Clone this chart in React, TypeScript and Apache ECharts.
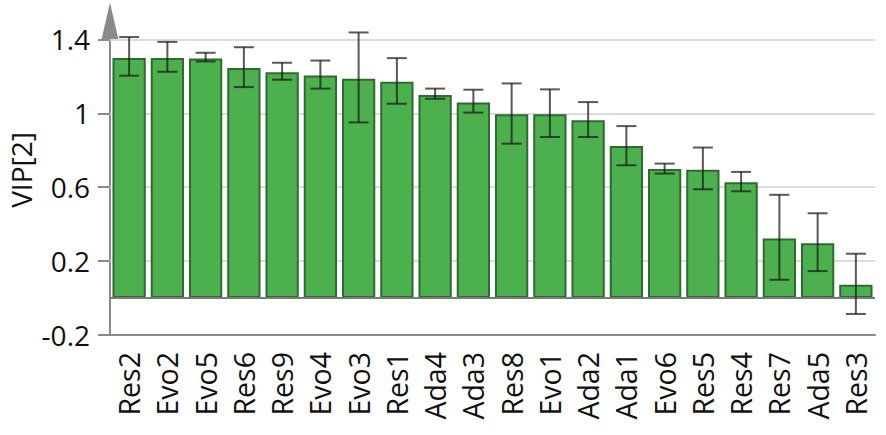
import React, { useEffect, useRef } from "react";
import * as echarts from "echarts";

const categories = ["Res2","Evo2","Evo5","Res6","Res9","Evo4","Evo3","Res1","Ada4","Ada3","Res8","Evo1","Ada2","Ada1","Evo6","Res5","Res4","Res7","Ada5","Res3"];
const vipValues = [1.30,1.30,1.297,1.245,1.223,1.205,1.187,1.171,1.099,1.059,0.995,0.995,0.962,0.823,0.699,0.695,0.627,0.323,0.297,0.072];
const errLow = [1.204,1.225,1.281,1.142,1.182,1.134,0.951,1.052,1.079,1.004,0.836,0.872,0.872,0.719,0.674,0.589,0.578,0.099,0.146,-0.086];
const errHigh = [1.413,1.387,1.328,1.358,1.274,1.286,1.438,1.299,1.134,1.128,1.162,1.130,1.061,0.931,0.728,0.815,0.683,0.559,0.459,0.240];
const yTicks = [-0.2, 0.2, 0.6, 1, 1.4];
const yAxisTitle = "VIP[2]";

const FONT = "'Open Sans', 'Noto Sans', sans-serif";

export default function App() {
  const ref = useRef<HTMLDivElement>(null);
  useEffect(() => {
    if (!ref.current) return;
    const chart = echarts.init(ref.current, null, { renderer: "svg" });
    const errData = categories.map((c, i) => [i, errLow[i], errHigh[i]]);
    chart.setOption({
      animation: false,
      grid: { left: 110, right: 11, top: 21, bottom: 100, containLabel: false },
      graphic: [
        {
          type: "text",
          x: 21,
          y: 170,
          rotation: Math.PI / 2,
          style: {
            text: yAxisTitle,
            fill: "#111",
            font: "28px 'Open Sans', 'Noto Sans', sans-serif",
            align: "center",
            verticalAlign: "middle",
          },
        },
      ],
      xAxis: {
        type: "category",
        data: categories,
        axisLine: { onZero: false, lineStyle: { color: "#8a8a8a", width: 2 } },
        axisTick: { alignWithLabel: true, length: 11, lineStyle: { color: "#8a8a8a", width: 2 } },
        axisLabel: { interval: 0, rotate: 90, margin: 17, color: "#111", fontSize: 28.5, fontFamily: FONT },
        splitLine: { show: false },
      },
      yAxis: {
        type: "value",
        min: -0.2,
        max: 1.5,
        interval: 0.4,
        axisLine: {
          show: true,
          symbol: ["none", "triangle"],
          symbolSize: [17, 37],
          lineStyle: { color: "#8a8a8a", width: 2 },
        },
        axisTick: { show: true, length: 12, customValues: yTicks, lineStyle: { color: "#8a8a8a", width: 2 } },
        axisLabel: {
          customValues: yTicks,
          margin: 20,
          color: "#111",
          fontSize: 28,
          fontFamily: FONT,
          formatter: (v: number) => (Math.abs(v) < 1e-9 ? "0" : String(Math.round(v * 10) / 10)),
        },
        splitLine: { show: false },
      },
      series: [
        {
          type: "bar",
          data: vipValues,
          barCategoryGap: "13%",
          itemStyle: { color: "#4cb04f", borderColor: "#2f6b31", borderWidth: 2 },
          z: 2,
          markLine: {
            silent: true,
            symbol: ["none", "none"],
            label: { show: false },
            data: yTicks.slice(1).map((t) => ({ yAxis: t, lineStyle: { color: "#dcdcdc", width: 2, type: "solid" } })),
            z: 1,
          },
        },
        {
          type: "line",
          data: [],
          markLine: {
            silent: true,
            symbol: ["none", "none"],
            label: { show: false },
            data: [{ yAxis: 0, lineStyle: { color: "#7a7a7a", width: 2, type: "solid" } }],
          },
          z: 5,
        },
        {
          type: "custom",
          data: errData,
          z: 10,
          renderItem: (params: any, api: any) => {
            const x = api.value(0);
            const lo = api.coord([x, api.value(1)]);
            const hi = api.coord([x, api.value(2)]);
            const cap = 10;
            const style = { stroke: "rgba(25,25,25,0.72)", lineWidth: 2 };
            return {
              type: "group",
              children: [
                { type: "line", shape: { x1: lo[0], y1: lo[1], x2: hi[0], y2: hi[1] }, style },
                { type: "line", shape: { x1: lo[0] - cap, y1: lo[1], x2: lo[0] + cap, y2: lo[1] }, style },
                { type: "line", shape: { x1: hi[0] - cap, y1: hi[1], x2: hi[0] + cap, y2: hi[1] }, style },
              ],
            };
          },
        },
      ],
    });
    return () => chart.dispose();
  }, []);
  return <div ref={ref} style={{ width: 886, height: 435, position: "absolute", left: 0, top: 0 }} />;
}
